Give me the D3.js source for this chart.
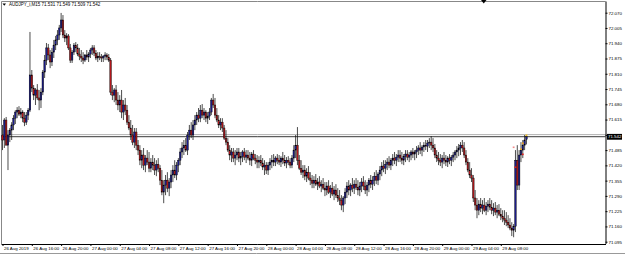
<!DOCTYPE html>
<html>
<head>
<meta charset="utf-8">
<script src="https://cdn.jsdelivr.net/npm/d3@7"></script>
<style>
  html, body { margin: 0; padding: 0; background: #fff; }
  svg { display: block; font-family: "Liberation Sans", Arial, sans-serif; }
</style>
</head>
<body>
<div id="chart"></div>
<script>
// chart header + price lines
const symbolTitle = "AUDJPY_i,M15";
const lastOHLC = [71.531, 71.549, 71.509, 71.542];
const bidPrice = 71.542;
const askPrice = 71.551;

// right axis prices and bottom time labels
const yTicks = [72.070, 72.005, 71.940, 71.875, 71.810, 71.745, 71.680, 71.615,
  71.550, 71.485, 71.420, 71.355, 71.290, 71.225, 71.160, 71.095];
const xTickLabels = ["26 Aug 2019", "26 Aug 16:00", "26 Aug 20:00", "27 Aug 00:00",
  "27 Aug 04:00", "27 Aug 08:00", "27 Aug 12:00", "27 Aug 16:00", "27 Aug 20:00",
  "28 Aug 00:00", "28 Aug 04:00", "28 Aug 08:00", "28 Aug 12:00", "28 Aug 16:00",
  "28 Aug 20:00", "29 Aug 00:00", "29 Aug 04:00", "29 Aug 08:00"];

// M15 bars from 26 Aug 12:00
const opens = [
  71.549,71.528,71.613,71.506,71.549,71.570,71.592,71.621,71.647,71.655,
  71.638,71.647,71.621,71.604,71.634,71.655,71.805,71.749,71.719,71.741,
  71.707,71.698,71.732,71.817,71.868,71.920,71.890,71.860,71.902,71.932,
  71.954,71.975,72.005,72.039,71.975,71.962,71.971,71.920,71.868,71.902,
  71.932,71.920,71.894,71.885,71.877,71.868,71.890,71.881,71.894,71.911,
  71.920,71.898,71.877,71.885,71.881,71.877,71.885,71.890,71.881,71.868,
  71.732,71.719,71.741,71.698,71.677,71.698,71.647,71.677,71.655,71.604,
  71.579,71.549,71.519,71.562,71.506,71.485,71.442,71.464,71.421,71.451,
  71.434,71.408,71.434,71.421,71.400,71.425,71.408,71.357,71.306,71.336,
  71.357,71.323,71.349,71.379,71.400,71.379,71.421,71.442,71.477,71.494,
  71.506,71.485,71.549,71.570,71.549,71.592,71.613,71.634,71.621,71.655,
  71.634,71.647,71.621,71.630,71.647,71.698,71.677,71.634,71.613,71.592,
  71.604,71.579,71.536,71.519,71.485,71.464,71.477,71.451,71.464,71.477,
  71.451,71.459,71.477,71.455,71.464,71.451,71.442,71.468,71.451,71.442,
  71.434,71.442,71.430,71.413,71.421,71.400,71.421,71.434,71.442,71.434,
  71.451,71.442,71.434,71.451,71.442,71.430,71.442,71.434,71.421,71.451,
  71.485,71.506,71.442,71.408,71.391,71.400,71.374,71.391,71.366,71.357,
  71.344,71.357,71.340,71.349,71.332,71.340,71.323,71.315,71.332,71.306,
  71.323,71.298,71.315,71.293,71.281,71.272,71.251,71.281,71.306,71.332,
  71.315,71.336,71.323,71.340,71.327,71.315,71.332,71.349,71.332,71.315,
  71.336,71.357,71.340,71.357,71.374,71.357,71.383,71.400,71.417,71.408,
  71.425,71.434,71.421,71.442,71.451,71.442,71.455,71.464,71.451,71.442,
  71.459,71.468,71.455,71.464,71.477,71.468,71.477,71.485,71.494,71.485,
  71.498,71.506,71.502,71.515,71.519,71.506,71.494,71.464,71.451,71.442,
  71.434,71.451,71.442,71.434,71.451,71.442,71.455,71.464,71.477,71.485,
  71.494,71.506,71.494,71.464,71.434,71.400,71.379,71.366,71.281,71.251,
  71.229,71.255,71.238,71.251,71.229,71.246,71.255,71.242,71.229,71.238,
  71.221,71.229,71.212,71.204,71.195,71.187,71.178,71.166,71.153,71.144,
  71.161,71.442,71.336,71.464,71.485,71.506,71.531];
const highs = [
  71.592,71.621,71.626,71.570,71.579,71.604,71.634,71.655,71.668,71.672,
  71.664,71.655,71.647,71.647,71.664,71.988,71.826,71.762,71.749,71.766,
  71.741,71.749,71.826,71.890,71.941,71.937,71.911,71.920,71.954,71.971,
  71.996,72.018,72.069,72.060,71.996,71.983,71.979,71.937,71.911,71.941,
  71.945,71.937,71.920,71.911,71.902,71.894,71.911,71.902,71.920,71.932,
  71.932,71.911,71.902,71.902,71.894,71.890,71.902,71.898,71.894,71.877,
  71.762,71.749,71.762,71.732,71.719,71.741,71.698,71.707,71.677,71.634,
  71.613,71.592,71.579,71.579,71.528,71.506,71.485,71.494,71.464,71.485,
  71.477,71.451,71.464,71.451,71.442,71.451,71.421,71.400,71.357,71.379,
  71.391,71.366,71.400,71.421,71.442,71.434,71.451,71.494,71.519,71.528,
  71.536,71.562,71.592,71.604,71.613,71.634,71.647,71.664,71.677,71.681,
  71.664,71.655,71.647,71.664,71.707,71.724,71.707,71.664,71.634,71.621,
  71.621,71.592,71.570,71.536,71.506,71.494,71.494,71.485,71.494,71.494,
  71.477,71.485,71.494,71.485,71.485,71.477,71.477,71.485,71.468,71.464,
  71.459,71.464,71.451,71.442,71.434,71.434,71.451,71.464,71.468,71.459,
  71.468,71.464,71.459,71.477,71.464,71.455,71.459,71.451,71.464,71.506,
  71.549,71.583,71.464,71.442,71.421,71.421,71.408,71.417,71.391,71.379,
  71.374,71.383,71.366,71.374,71.357,71.366,71.349,71.349,71.357,71.336,
  71.349,71.332,71.340,71.323,71.315,71.293,71.289,71.323,71.349,71.357,
  71.344,71.366,71.357,71.366,71.357,71.349,71.366,71.374,71.357,71.349,
  71.366,71.379,71.374,71.391,71.400,71.391,71.417,71.434,71.442,71.442,
  71.451,71.459,71.451,71.468,71.477,71.468,71.485,71.485,71.477,71.468,
  71.485,71.485,71.477,71.485,71.494,71.485,71.502,71.506,71.519,71.506,
  71.519,71.528,71.528,71.536,71.545,71.536,71.511,71.485,71.477,71.468,
  71.464,71.477,71.464,71.459,71.468,71.464,71.477,71.485,71.502,71.511,
  71.519,71.528,71.519,71.485,71.451,71.434,71.408,71.379,71.315,71.281,
  71.272,71.281,71.272,71.281,71.264,71.272,71.281,71.272,71.259,71.264,
  71.251,71.255,71.238,71.229,71.229,71.221,71.208,71.195,71.178,71.170,
  71.485,71.506,71.485,71.519,71.528,71.549,71.549];
const lows = [
  71.485,71.494,71.506,71.400,71.519,71.528,71.570,71.596,71.621,71.630,
  71.621,71.604,71.587,71.592,71.613,71.647,71.732,71.698,71.677,71.698,
  71.655,71.664,71.719,71.792,71.847,71.868,71.834,71.843,71.877,71.911,
  71.932,71.954,71.988,71.962,71.945,71.932,71.911,71.856,71.856,71.890,
  71.902,71.885,71.868,71.860,71.851,71.860,71.868,71.860,71.877,71.890,
  71.885,71.868,71.860,71.868,71.860,71.860,71.868,71.868,71.860,71.719,
  71.698,71.689,71.677,71.655,71.647,71.621,71.613,71.634,71.592,71.570,
  71.528,71.506,71.494,71.485,71.464,71.421,71.408,71.400,71.391,71.421,
  71.391,71.391,71.400,71.379,71.374,71.391,71.336,71.293,71.259,71.293,
  71.306,71.289,71.323,71.349,71.366,71.357,71.391,71.421,71.451,71.464,
  71.477,71.464,71.528,71.536,71.528,71.570,71.592,71.604,71.604,71.621,
  71.613,71.604,71.596,71.613,71.634,71.664,71.621,71.604,71.579,71.570,
  71.562,71.528,71.506,71.477,71.442,71.434,71.434,71.421,71.442,71.434,
  71.421,71.434,71.442,71.430,71.442,71.421,71.417,71.442,71.425,71.408,
  71.408,71.417,71.400,71.379,71.383,71.379,71.400,71.408,71.417,71.417,
  71.425,71.421,71.413,71.425,71.417,71.408,71.421,71.408,71.408,71.434,
  71.451,71.421,71.400,71.379,71.366,71.357,71.349,71.357,71.336,71.323,
  71.323,71.332,71.315,71.323,71.306,71.315,71.289,71.293,71.298,71.281,
  71.289,71.272,71.281,71.264,71.251,71.229,71.221,71.255,71.281,71.293,
  71.289,71.306,71.298,71.315,71.293,71.289,71.306,71.315,71.298,71.289,
  71.306,71.323,71.315,71.332,71.340,71.336,71.357,71.374,71.391,71.383,
  71.400,71.408,71.400,71.417,71.425,71.417,71.434,71.434,71.425,71.421,
  71.434,71.442,71.434,71.442,71.451,71.442,71.451,71.464,71.468,71.459,
  71.477,71.485,71.477,71.494,71.485,71.477,71.451,71.434,71.421,71.417,
  71.408,71.425,71.417,71.413,71.425,71.417,71.434,71.442,71.451,71.459,
  71.464,71.477,71.451,71.421,71.391,71.366,71.349,71.264,71.229,71.195,
  71.208,71.221,71.212,71.221,71.208,71.221,71.229,71.212,71.204,71.208,
  71.195,71.204,71.187,71.178,71.166,71.161,71.153,71.144,71.119,71.114,
  71.136,71.315,71.315,71.434,71.451,71.485,71.509];
const closes = [
  71.528,71.613,71.506,71.549,71.570,71.592,71.621,71.647,71.655,71.638,
  71.647,71.621,71.604,71.634,71.655,71.805,71.749,71.719,71.741,71.707,
  71.698,71.732,71.817,71.868,71.920,71.890,71.860,71.902,71.932,71.954,
  71.975,72.005,72.039,71.975,71.962,71.971,71.920,71.868,71.902,71.932,
  71.920,71.894,71.885,71.877,71.868,71.890,71.881,71.894,71.911,71.920,
  71.898,71.877,71.885,71.881,71.877,71.885,71.890,71.881,71.868,71.732,
  71.719,71.741,71.698,71.677,71.698,71.647,71.677,71.655,71.604,71.579,
  71.549,71.519,71.562,71.506,71.485,71.442,71.464,71.421,71.451,71.434,
  71.408,71.434,71.421,71.400,71.425,71.408,71.357,71.306,71.336,71.357,
  71.323,71.349,71.379,71.400,71.379,71.421,71.442,71.477,71.494,71.506,
  71.485,71.549,71.570,71.549,71.592,71.613,71.634,71.621,71.655,71.634,
  71.647,71.621,71.630,71.647,71.698,71.677,71.634,71.613,71.592,71.604,
  71.579,71.536,71.519,71.485,71.464,71.477,71.451,71.464,71.477,71.451,
  71.459,71.477,71.455,71.464,71.451,71.442,71.468,71.451,71.442,71.434,
  71.442,71.430,71.413,71.421,71.400,71.421,71.434,71.442,71.434,71.451,
  71.442,71.434,71.451,71.442,71.430,71.442,71.434,71.421,71.451,71.485,
  71.506,71.442,71.408,71.391,71.400,71.374,71.391,71.366,71.357,71.344,
  71.357,71.340,71.349,71.332,71.340,71.323,71.315,71.332,71.306,71.323,
  71.298,71.315,71.293,71.281,71.272,71.251,71.281,71.306,71.332,71.315,
  71.336,71.323,71.340,71.327,71.315,71.332,71.349,71.332,71.315,71.336,
  71.357,71.340,71.357,71.374,71.357,71.383,71.400,71.417,71.408,71.425,
  71.434,71.421,71.442,71.451,71.442,71.455,71.464,71.451,71.442,71.459,
  71.468,71.455,71.464,71.477,71.468,71.477,71.485,71.494,71.485,71.498,
  71.506,71.502,71.515,71.519,71.506,71.494,71.464,71.451,71.442,71.434,
  71.451,71.442,71.434,71.451,71.442,71.455,71.464,71.477,71.485,71.494,
  71.506,71.494,71.464,71.434,71.400,71.379,71.366,71.281,71.251,71.229,
  71.255,71.238,71.251,71.229,71.246,71.255,71.242,71.229,71.238,71.221,
  71.229,71.212,71.204,71.195,71.187,71.178,71.166,71.153,71.144,71.161,
  71.442,71.336,71.464,71.485,71.506,71.528,71.542];

// small indicator marks on the last bars
const markBars = [279, 280, 283, 284, 284, 286];
const markPrices = [71.497, 71.412, 71.489, 71.467, 71.514, 71.548];
const markColors = ["#f08a8a", "#e0201c", "#f0a020", "#e0201c", "#f0a020", "#f5c020"];

const width = 625, height = 255;
const frame = { left: 1.5, right: 605.5, top: 1.5, bottom: 244 };

const svg = d3.select("#chart").append("svg")
  .attr("width", width).attr("height", height);
svg.append("rect").attr("width", width).attr("height", height).attr("fill", "#fff");

const start = new Date(2019, 7, 26, 12, 0);
const bars = closes.map((c, i) => ({
  t: d3.timeMinute.offset(start, 15 * i), o: opens[i], h: highs[i], l: lows[i], c
}));

const x = d3.scaleTime()
  .domain([start, bars[bars.length - 1].t])
  .range([2.5, 2.5 + 1.832 * (bars.length - 1)]);
const y = d3.scaleLinear().domain([71.095, 72.070]).range([241.7, 12.7]);

// frame
svg.append("line").attr("x1", frame.left).attr("x2", frame.left)
  .attr("y1", frame.top).attr("y2", frame.bottom).attr("stroke", "#888");
svg.append("line").attr("x1", frame.left).attr("x2", frame.right)
  .attr("y1", frame.top).attr("y2", frame.top).attr("stroke", "#888");

// bid / ask lines
svg.append("line").attr("x1", frame.left).attr("x2", frame.right)
  .attr("y1", y(askPrice)).attr("y2", y(askPrice))
  .attr("stroke", "#aaa").attr("stroke-width", 0.9);
svg.append("line").attr("x1", frame.left).attr("x2", frame.right)
  .attr("y1", y(bidPrice)).attr("y2", y(bidPrice))
  .attr("stroke", "#222").attr("stroke-width", 0.9);

// candles
const barW = 1.6;
const candles = svg.append("g");
candles.selectAll("line")
  .data(bars)
  .join("line")
  .attr("x1", (d) => x(d.t)).attr("x2", (d) => x(d.t))
  .attr("y1", (d) => y(d.h)).attr("y2", (d) => y(d.l))
  .attr("stroke", "#111").attr("stroke-width", 0.75);
candles.selectAll("rect")
  .data(bars)
  .join("rect")
  .attr("x", (d) => x(d.t) - barW / 2)
  .attr("width", barW)
  .attr("y", (d) => y(Math.max(d.o, d.c)))
  .attr("height", (d) => Math.max(0.7, Math.abs(y(d.o) - y(d.c))))
  .attr("fill", (d) => (d.c >= d.o ? "#1b1b8a" : "#b3161b"))
  .attr("stroke", "#000").attr("stroke-width", 0.4);

svg.append("g").selectAll("rect")
  .data(markBars)
  .join("rect")
  .attr("x", (d) => x(bars[d].t) - 0.9)
  .attr("y", (d, i) => y(markPrices[i]) - 0.8)
  .attr("width", 1.8).attr("height", 1.6)
  .attr("fill", (d, i) => markColors[i]);

// right price axis
const yAxis = d3.axisRight(y).tickValues(yTicks).tickSize(2).tickPadding(1)
  .tickFormat((d) => (Math.abs(d - bidPrice) < 0.02 ? "" : d3.format(".3f")(d)));
const gy = svg.append("g").attr("transform", `translate(${frame.right},0)`).call(yAxis);
gy.select(".domain").attr("d", `M0.5,${frame.top}V${frame.bottom}`).attr("stroke", "#000");
gy.selectAll("text").attr("font-size", 4.4).attr("fill", "#000")
  .attr("font-family", "Liberation Sans, Arial, sans-serif");

// bottom time axis
const xTickDates = xTickLabels.map((_, i) => d3.timeHour.offset(start, 4 * i));
const xAxis = d3.axisBottom(x).tickValues(xTickDates).tickSize(2)
  .tickFormat((d, i) => xTickLabels[i]);
const gx = svg.append("g").attr("transform", `translate(0,${frame.bottom})`).call(xAxis);
gx.select(".domain").attr("d", `M${frame.left},0.5H${frame.right + 0.5}`).attr("stroke", "#000");
gx.selectAll("text").attr("font-size", 4.4).attr("fill", "#000")
  .attr("text-anchor", "start").attr("x", 1).attr("y", 3).attr("dy", "0.71em")
  .attr("font-family", "Liberation Sans, Arial, sans-serif");

// current bid label
const by = y(bidPrice);
svg.append("rect").attr("x", frame.right + 1.5).attr("y", by - 2.8)
  .attr("width", 15).attr("height", 5.8).attr("fill", "#000");
svg.append("text").attr("x", frame.right + 2.5).attr("y", by + 1.6)
  .attr("font-size", 4.4).attr("fill", "#fff").text(d3.format(".3f")(bidPrice));

// title
svg.append("path").attr("d", "M2.5,3.5 L6,3.5 L4.25,5.8 Z").attr("fill", "#000");
svg.append("text").attr("x", 9).attr("y", 6.4).attr("font-size", 4.5).attr("fill", "#000")
  .text(symbolTitle + " " + lastOHLC.map(d3.format(".3f")).join(" "));

// chart shift marker
svg.append("path").attr("d", "M481,0 L486.5,0 L483.75,3.5 Z").attr("fill", "#000");

// bottom strip
svg.append("line").attr("x1", 0).attr("x2", width).attr("y1", 253.5).attr("y2", 253.5)
  .attr("stroke", "#999");
</script>
</body>
</html>
